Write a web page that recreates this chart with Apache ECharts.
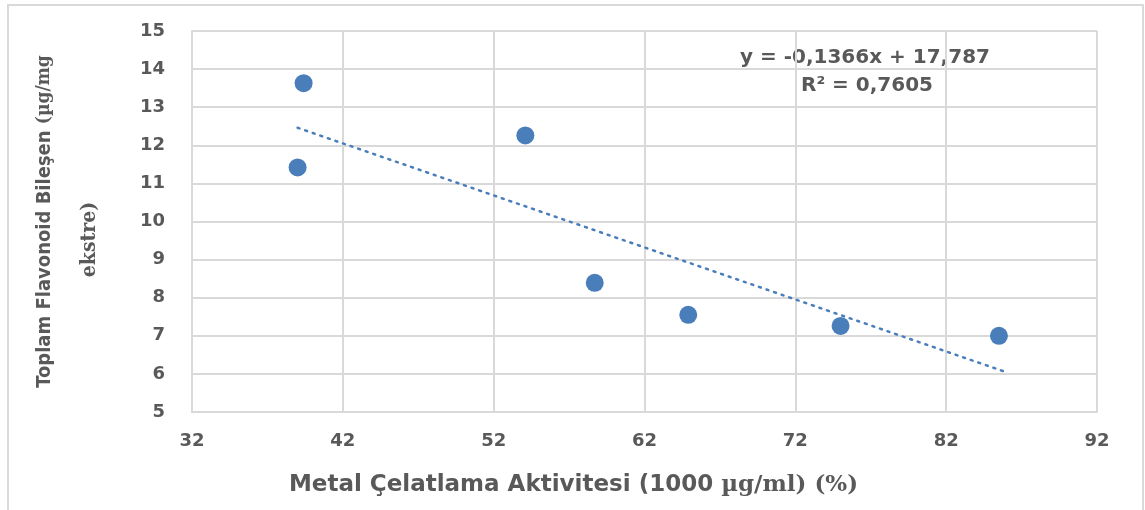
<!DOCTYPE html>
<html>
<head>
<meta charset="utf-8">
<script src="https://cdn.jsdelivr.net/npm/echarts@6/dist/echarts.min.js"></script>
<style>
  html, body { margin: 0; padding: 0; background: #fff; }
  #chart { width: 1145px; height: 510px; }
</style>
</head>
<body>
<div id="chart"></div>
<script>
  // scatter values (metal chelating %, total flavonoid)
  var xVals = [39.0, 39.4, 54.1, 58.7, 64.9, 75.0, 85.5]
  var yVals = [11.42, 13.63, 12.26, 8.39, 7.55, 7.26, 7.0]
  // linear trendline end points
  var trendX = [39.0, 85.8]
  var trendY = [12.46, 6.07]
  var eqText = 'y = -0,1366x + 17,787'
  var r2Text = 'R² = 0,7605'

  var points = xVals.map(function (x, i) { return [x, yVals[i]] })
  var trend = trendX.map(function (x, i) { return [x, trendY[i]] })

  var gray = '#595959'
  var chart = echarts.init(document.getElementById('chart'))
  var option = {
    animation: false,
    grid: { left: 192, right: 48, top: 31, bottom: 98, outerBoundsMode: 'none', containLabel: false },
    xAxis: {
      type: 'value',
      min: 32, max: 92, interval: 10,
      name: '{a|Metal Çelatlama Aktivitesi (1000 }{b|µg/ml) (%)}',
      nameLocation: 'middle',
      nameGap: 62,
      nameTextStyle: {
        padding: [0, 142, 0, 0],
        rich: {
          a: { color: gray, fontSize: 23, fontWeight: 'bold', fontFamily: 'DejaVu Sans' },
          b: { color: gray, fontSize: 23, fontWeight: 'bold', fontFamily: 'DejaVu Serif' }
        }
      },
      axisLine: { show: true, lineStyle: { color: '#d9d9d9', width: 2 } },
      axisTick: { show: false },
      axisLabel: { color: gray, fontSize: 18, fontWeight: 'bold', fontFamily: 'DejaVu Sans', margin: 20 },
      splitLine: { show: true, lineStyle: { color: '#d9d9d9', width: 2 } }
    },
    yAxis: {
      type: 'value',
      min: 5, max: 15, interval: 1,
      name: '{a|Toplam Flavonoid Bileşen }{b|(µg/mg}\n{c|ekstre)}',
      nameLocation: 'middle',
      nameRotate: 90,
      nameGap: 80,
      nameTextStyle: {
        align: 'center',
        rich: {
          a: { color: gray, fontSize: 20, fontWeight: 'bold', fontFamily: 'DejaVu Sans Condensed', lineHeight: 45 },
          b: { color: gray, fontSize: 19, fontWeight: 'bold', fontFamily: 'DejaVu Serif Condensed', lineHeight: 45 },
          c: { color: gray, fontSize: 21, fontWeight: 'bold', fontFamily: 'DejaVu Serif Condensed', lineHeight: 45, padding: [0, 36, 0, 0] }
        }
      },
      axisLine: { show: true, lineStyle: { color: '#d9d9d9', width: 2 } },
      axisTick: { show: false },
      axisLabel: { color: gray, fontSize: 18, fontWeight: 'bold', fontFamily: 'DejaVu Sans', margin: 27 },
      splitLine: { show: true, lineStyle: { color: '#d9d9d9', width: 2 } }
    },
    graphic: [
      {
        type: 'rect', silent: true, z: -1,
        shape: { x: 8, y: 5, width: 1135, height: 520 },
        style: { fill: 'none', stroke: '#d9d9d9', lineWidth: 2 }
      },
      {
        type: 'text', left: 740, top: 48,
        style: { text: eqText, fill: gray, font: 'bold 20px "DejaVu Sans"' }
      },
      {
        type: 'text', left: 801, top: 76,
        style: { text: r2Text, fill: gray, font: 'bold 20px "DejaVu Sans"' }
      }
    ],
    series: [
      {
        type: 'line',
        data: trend,
        showSymbol: false,
        lineStyle: { color: '#4a7ebb', width: 2.5, type: [2, 6], cap: 'round' },
        z: 2
      },
      {
        type: 'scatter',
        data: points,
        symbolSize: 18,
        itemStyle: { color: '#4a7ebb', opacity: 1 },
        z: 3
      }
    ]
  }
  chart.setOption(option)
  window.addEventListener('resize', () => {
    chart.resize()
  })
</script>
</body>
</html>
